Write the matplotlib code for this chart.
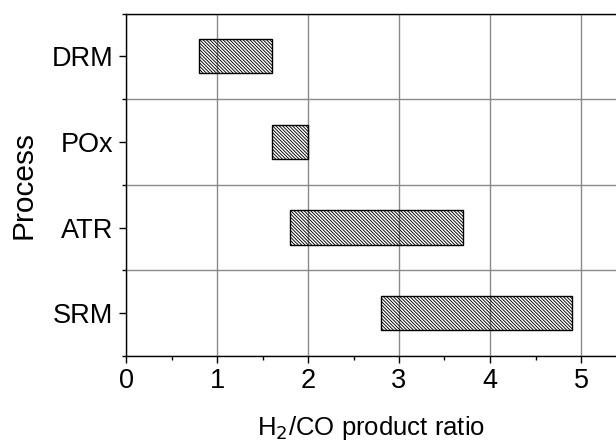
import matplotlib
matplotlib.use("Agg")
import matplotlib.pyplot as plt
from matplotlib.ticker import MultipleLocator

processes = ["SRM", "ATR", "POx", "DRM"]
ratio_low = [2.8, 1.8, 1.6, 0.8]
ratio_high = [4.9, 3.7, 2.0, 1.6]

plt.rcParams["font.family"] = ["Liberation Sans", "DejaVu Sans"]
plt.rcParams["hatch.linewidth"] = 0.65

fig = plt.figure(figsize=(6.16, 4.45), dpi=100)
ax = fig.add_axes([126 / 616, 1 - 356 / 445, 1 - 126 / 616, (356 - 13.5) / 445])

widths = [h - l for l, h in zip(ratio_low, ratio_high)]
ax.barh(range(len(processes)), widths, left=ratio_low, height=0.4,
        facecolor="none", edgecolor="black", linewidth=1.0,
        hatch="\\" * 10, zorder=3)

ax.set_xlim(0, 490 / 91)
ax.set_ylim(-0.5, 3.5)
ax.set_yticks(range(len(processes)))
ax.set_yticklabels(processes)
ax.xaxis.set_major_locator(MultipleLocator(1))
ax.xaxis.set_minor_locator(MultipleLocator(0.5))
ax.yaxis.set_minor_locator(MultipleLocator(1, offset=0.5))

ax.grid(True, which="major", axis="x", color="#8a8a8a", linewidth=1.0, zorder=1)
ax.grid(True, which="minor", axis="y", color="#8a8a8a", linewidth=1.0, zorder=1)
ax.set_axisbelow(True)

ax.spines["right"].set_visible(False)
for s in ["left", "bottom", "top"]:
    ax.spines[s].set_linewidth(1.0)

ax.tick_params(axis="both", which="major", direction="out", length=5, width=1,
               labelsize=19.5, pad=4)
ax.tick_params(axis="both", which="minor", direction="out", length=3, width=1)

ax.set_xlabel("H$_2$/CO product ratio", fontsize=18.5, labelpad=14)
ax.set_ylabel("Process", fontsize=21.5, labelpad=10)

fig.savefig("out.png", dpi=100)
